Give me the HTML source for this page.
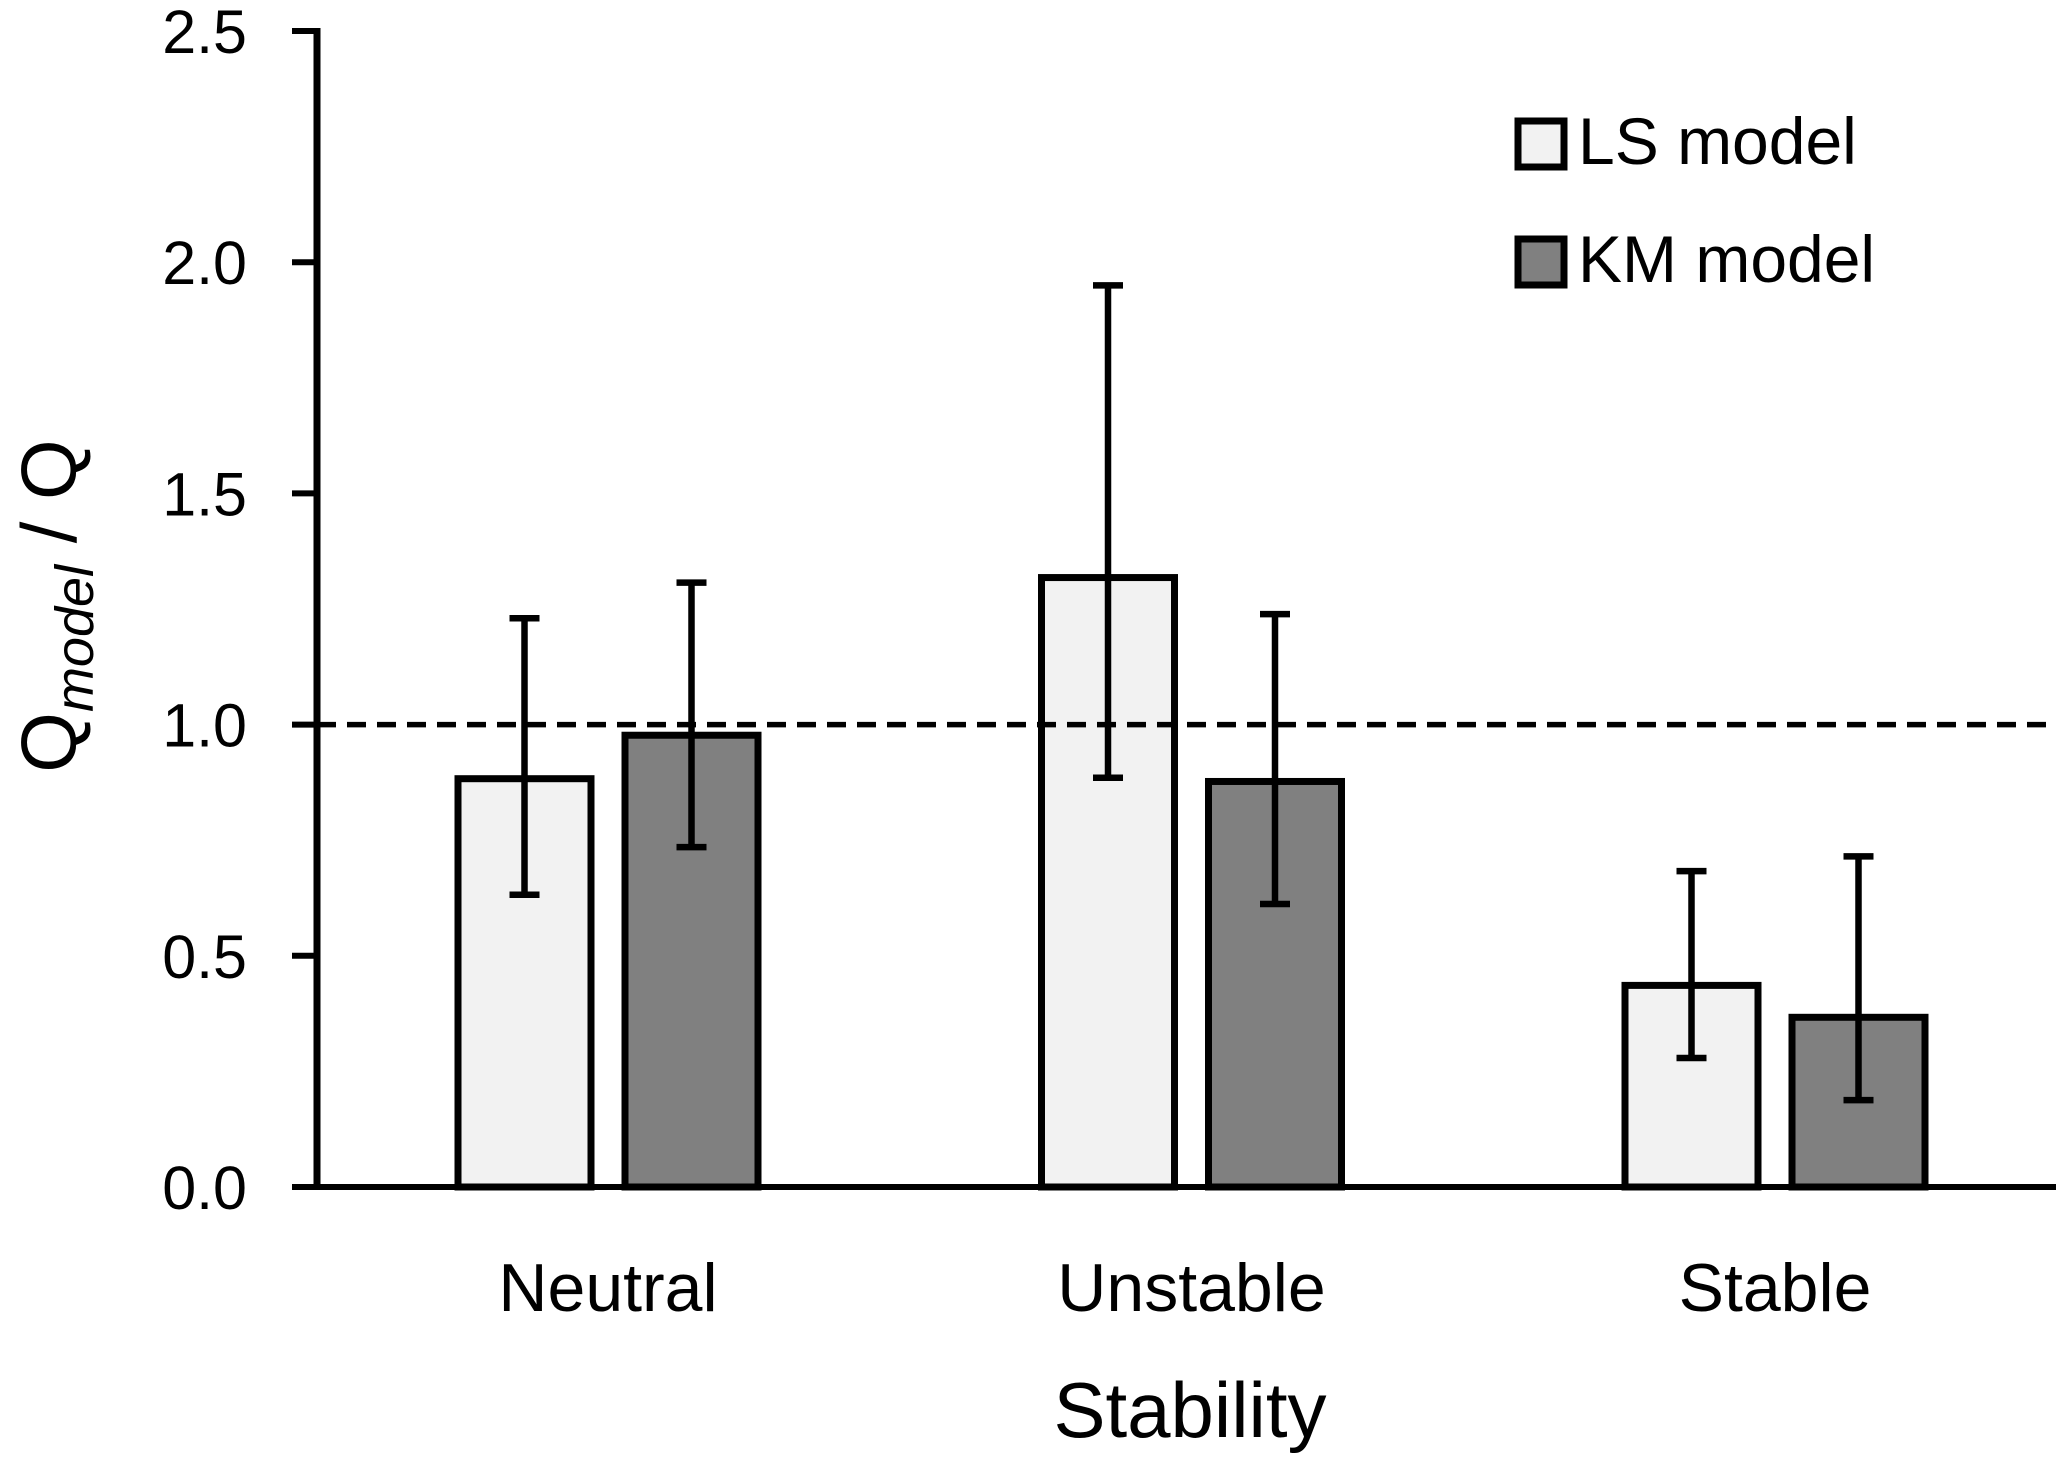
<!DOCTYPE html>
<html><head><meta charset="utf-8"><style>
html,body{margin:0;padding:0;background:#fff;}
svg{display:block;font-family:"Liberation Sans",sans-serif;}
</style></head><body>
<svg id="chart" width="2067" height="1458" viewBox="0 0 2067 1458"></svg>
<script>
const categories = ["Neutral","Unstable","Stable"];
const seriesNames = ["LS model","KM model"];
const lsValues = [0.883,1.318,0.436];
const lsLow = [0.632,0.885,0.279];
const lsHigh = [1.23,1.95,0.683];
const kmValues = [0.977,0.877,0.367];
const kmLow = [0.735,0.612,0.188];
const kmHigh = [1.307,1.239,0.715];
const yTicks = [0,0.5,1.0,1.5,2.0,2.5];
const yTickLabels = ["0.0","0.5","1.0","1.5","2.0","2.5"];
const refValue = 1.0;

const NS="http://www.w3.org/2000/svg";
const svg=document.getElementById('chart');
const X0=317, X1=2056, Y0=1187, YT=31, YMAX=2.5;
const y=v=>Y0-(v/YMAX)*(Y0-YT);
const catCenter=i=>608+i*583.5;
const BW=133, GAP=34;
function el(tag,attrs,parent){const e=document.createElementNS(NS,tag);for(const k in attrs)e.setAttribute(k,attrs[k]);(parent||svg).appendChild(e);return e;}

const fills=["#f2f2f2","#808080"];
const vals=[lsValues,kmValues], lows=[lsLow,kmLow], highs=[lsHigh,kmHigh];
for(let s=0;s<2;s++){
  for(let i=0;i<categories.length;i++){
    const left=catCenter(i)-(BW+GAP/2)+s*(BW+GAP);
    const r=el('rect',{x:left,y:y(vals[s][i]),width:BW,height:Y0-y(vals[s][i]),fill:fills[s],stroke:'#000','stroke-width':7});
    
    
    const cx=left+BW/2;
    const g=el('g',{stroke:'#000','stroke-width':6.5});
    
    
    el('line',{x1:cx,x2:cx,y1:y(highs[s][i]),y2:y(lows[s][i])},g);
    el('line',{x1:cx-15,x2:cx+15,y1:y(highs[s][i]),y2:y(highs[s][i])},g);
    el('line',{x1:cx-15,x2:cx+15,y1:y(lows[s][i]),y2:y(lows[s][i])},g);
  }
}
const ref=el('line',{x1:X0,x2:X1,y1:y(refValue),y2:y(refValue),stroke:'#000','stroke-width':5.5,'stroke-dasharray':'19 11'});


const ya=el('line',{x1:X0,x2:X0,y1:YT-3,y2:Y0+3,stroke:'#000','stroke-width':7});


const xa=el('line',{x1:X0-25,x2:X1,y1:Y0,y2:Y0,stroke:'#000','stroke-width':6});


yTicks.forEach((t,i)=>{
  el('line',{x1:X0-25,x2:X0,y1:y(t),y2:y(t),stroke:'#000','stroke-width':6});
  const tx=el('text',{x:247,y:y(t)+22,'text-anchor':'end','font-size':61,fill:'#000'});
  tx.textContent=yTickLabels[i];
  
  
});
categories.forEach((c,i)=>{
  const tx=el('text',{x:catCenter(i),y:1311,'text-anchor':'middle','font-size':68,fill:'#000'});
  tx.textContent=c;
  
  
});
seriesNames.forEach((n,i)=>{
  const r=el('rect',{x:1518,y:121+i*118,width:46,height:46,fill:fills[i],stroke:'#000','stroke-width':7});
  
  
  const tx=el('text',{x:1578,y:164+i*118,'font-size':66,fill:'#000'});
  tx.textContent=n;
  
  
});
</script>
<svg style="position:absolute;left:0;top:0" width="2067" height="1458">
<text x="1190" y="1437" text-anchor="middle" font-size="78" font-family="Liberation Sans, sans-serif">Stability</text>
<text transform="translate(76,606) rotate(-90)" text-anchor="middle" font-size="78" font-family="Liberation Sans, sans-serif">Q<tspan font-size="54" font-style="italic" dy="17">model</tspan><tspan dy="-17"> / Q</tspan></text>
</svg>
</body></html>
